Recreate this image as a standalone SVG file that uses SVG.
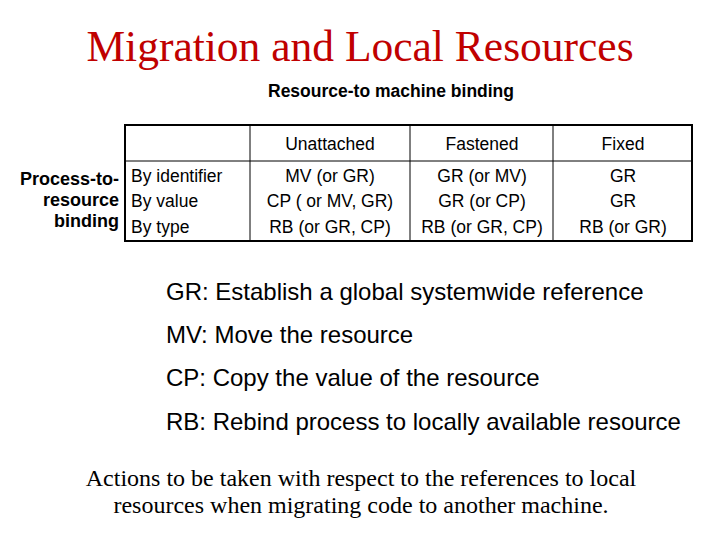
<svg xmlns="http://www.w3.org/2000/svg" width="720" height="540" viewBox="0 0 720 540">
<style>
.s{font-family:"Liberation Sans",Arial,sans-serif;font-size:17.5px;fill:#000}
.c{text-anchor:middle}
.b{font-weight:bold;text-anchor:end;font-size:18px}
.l{font-family:"Liberation Sans",Arial,sans-serif;font-size:24px;fill:#000}
.t{font-family:"Liberation Serif","Times New Roman",serif;fill:#000}
</style>
<rect width="720" height="540" fill="#fff"/>
<text class="t" x="360" y="61" font-size="43.5" style="fill:#c00000" text-anchor="middle">Migration and Local Resources</text>
<text class="s" x="391" y="97" font-size="18" font-weight="bold" text-anchor="middle">Resource-to machine binding</text>
<g id="table" fill="none" stroke="#000">
<rect x="125" y="125" width="567" height="116" stroke-width="2"/>
<line x1="125" y1="161" x2="692" y2="161"/>
<line x1="250" y1="125" x2="250" y2="241"/>
<line x1="410" y1="125" x2="410" y2="241"/>
<line x1="553" y1="125" x2="553" y2="241"/>
</g>
<g id="labels">
<text class="s c" x="330" y="150">Unattached</text>
<text class="s c" x="482" y="150">Fastened</text>
<text class="s c" x="623" y="150">Fixed</text>
<text class="s b" x="119" y="185">Process-to-</text>
<text class="s b" x="119" y="206">resource</text>
<text class="s b" x="119" y="227">binding</text>
<text class="s" x="131" y="182">By identifier</text>
<text class="s" x="131" y="207">By value</text>
<text class="s" x="131" y="233">By type</text>
<text class="s c" x="330" y="182">MV (or GR)</text>
<text class="s c" x="330" y="207">CP ( or MV, GR)</text>
<text class="s c" x="330" y="233">RB (or GR, CP)</text>
<text class="s c" x="482" y="182">GR (or MV)</text>
<text class="s c" x="482" y="207">GR (or CP)</text>
<text class="s c" x="482" y="233">RB (or GR, CP)</text>
<text class="s c" x="623" y="182">GR</text>
<text class="s c" x="623" y="207">GR</text>
<text class="s c" x="623" y="233">RB (or GR)</text>
</g>
<text class="l" x="166" y="300">GR: Establish a global systemwide reference</text>
<text class="l" x="166" y="343">MV: Move the resource</text>
<text class="l" x="166" y="386">CP: Copy the value of the resource</text>
<text class="l" x="166" y="430">RB: Rebind process to locally available resource</text>
<text class="t" x="361" y="486" font-size="24" text-anchor="middle">Actions to be taken with respect to the references to local</text>
<text class="t" x="361" y="513" font-size="24" text-anchor="middle">resources when migrating code to another machine.</text>
</svg>
